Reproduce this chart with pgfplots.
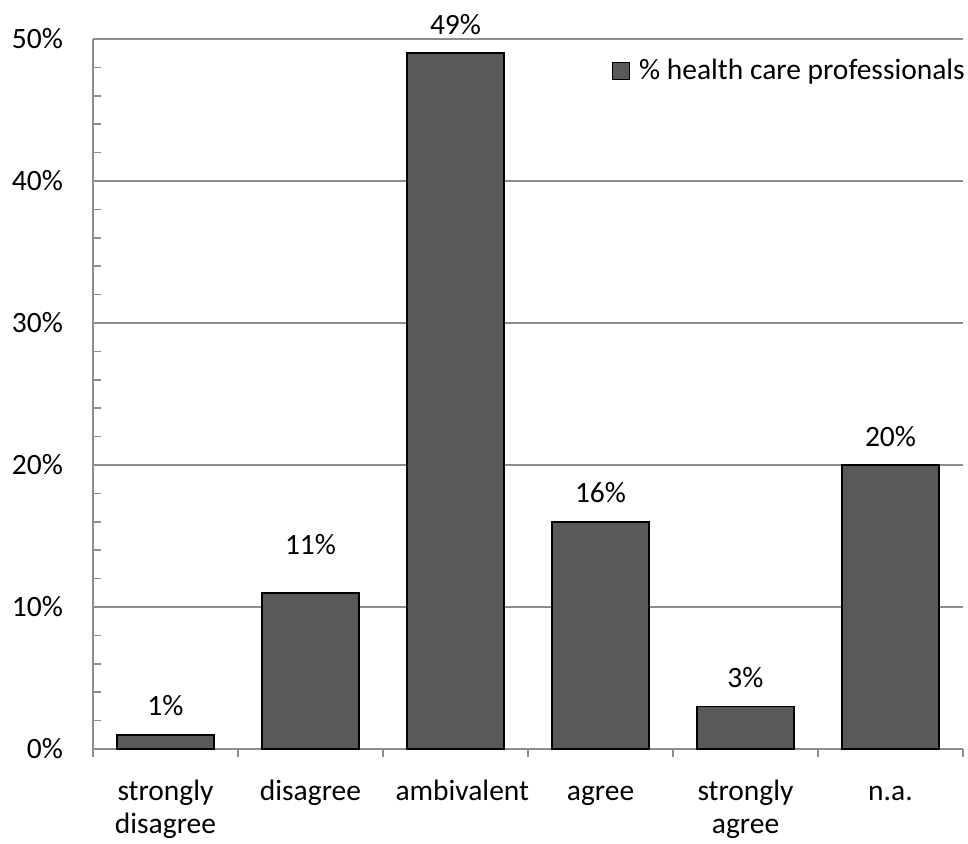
\documentclass[border=0pt]{standalone}
\usepackage{pgfplots}
\pgfplotsset{compat=1.18}
\usepackage{fontspec}
\setmainfont{Carlito}
\definecolor{barfill}{HTML}{595959}
\definecolor{gridc}{HTML}{8C8C8C}
\begin{document}
\fontsize{29.5}{33}\selectfont
\begin{tikzpicture}
\begin{axis}[
  scale only axis,
  width=870pt, height=710pt,
  xmin=-0.5, xmax=5.5,
  ymin=0, ymax=50,
  /pgf/number format/assume math mode=true,
  axis x line*=bottom,
  axis y line*=left,
  axis line style={gridc, line width=1.5pt},
  xtick={0,1,2,3,4,5},
  xticklabels={{\strut strongly\\\strut disagree},\strut disagree,\strut ambivalent,\strut agree,{\strut strongly\\\strut agree},\strut n.a.},
  xticklabel style={align=center, text width=120pt, inner sep=0pt, yshift=-24pt, font=\fontsize{29.5}{33}\selectfont},
  minor xtick={-0.5,0.5,1.5,2.5,3.5,4.5,5.5},
  xtick align=outside,
  major x tick style={draw=none},
  minor x tick style={gridc, line width=1.5pt},
  minor tick length=8pt,
  ytick={0,10,20,30,40,50},
  yticklabels={0\%,10\%,20\%,30\%,40\%,50\%},
  yticklabel style={xshift=-20pt, font=\fontsize{29.5}{33}\selectfont},
  minor y tick num=4,
  ytick align=inside,
  major y tick style={draw=none},
  minor y tick style={gridc, line width=1.5pt},
  ymajorgrids,
  grid style={gridc, line width=1.5pt},
  ybar, bar width=97pt,
  visualization depends on={value \coordindex \as \idx},
  nodes near coords={\pgfmathprintnumber[assume math mode=true]{\pgfplotspointmeta}\%},
  nodes near coords style={yshift={(\idx==1)*19pt+8pt}, font=\fontsize{29.5}{33}\selectfont},
  legend style={overlay, draw=none, at={(1,1)}, anchor=north east, yshift=-16pt, xshift=6pt, font=\fontsize{29.5}{33}\selectfont, inner sep=2pt},
  legend image code/.code={\draw[#1, draw=black, fill=barfill, line width=1pt] (0pt,-8pt) rectangle (17pt,9pt); \path (24pt,0pt);},
  clip=false,
]
\addplot[fill=barfill, draw=black, line width=1.5pt] coordinates {(0,1) (1,11) (2,49) (3,16) (4,3) (5,20)};
\addlegendentry{\% health care professionals}
\end{axis}
\path (current axis.south west) ++(-93pt,-92pt) (current axis.north east) ++(5pt,39pt);
\end{tikzpicture}
\end{document}
